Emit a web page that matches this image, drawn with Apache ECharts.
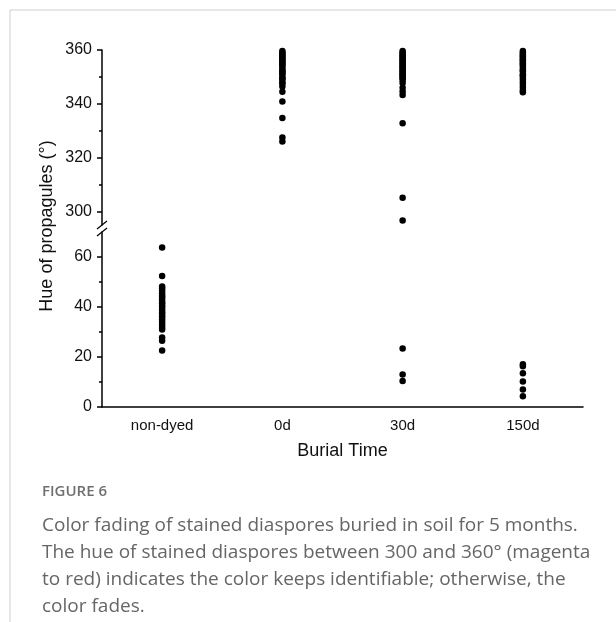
<!DOCTYPE html>
<html>
<head>
<meta charset="utf-8">
<script src="https://cdn.jsdelivr.net/npm/echarts@6/dist/echarts.min.js"></script>
<style>
html,body{margin:0;padding:0;background:#fff;}
#c{width:616px;height:622px;}
</style>
</head>
<body>
<div id="c"></div>
<script>
const categories = ['non-dyed', '0d', '30d', '150d'];
const nonDyed = [63.8, 52.4, 48.2, 47.5, 46.5, 45.5, 44.5, 44, 43, 42, 41.5, 40.5, 40, 39, 38, 37.5, 36.5, 36, 35, 34, 33, 32, 31, 27.8, 26.5, 22.6];
const day0 = [359.6, 359, 358.5, 358, 357.5, 357, 356.5, 356, 355.5, 355, 354.5, 354, 353, 352.5, 352, 351.5, 351, 350, 349.5, 349, 348, 347.6, 346.4, 344.5, 340.9, 334.7, 327.5, 326];
const day30 = [359.6, 359, 358.5, 358, 357.5, 357, 356.5, 356, 355.5, 355, 354.5, 354, 353.5, 353, 352.5, 352, 351.5, 351, 350.5, 350, 349.5, 348.9, 347.7, 346, 344.6, 343.3, 332.8, 305.1, 296.7, 23.4, 13, 10.4];
const day150 = [359.6, 359, 358.5, 358, 357.5, 357, 356.5, 356, 355.5, 355, 354.5, 354, 353, 352.5, 352, 351, 350.5, 350, 349, 348, 347, 346, 345, 344.3, 17.1, 16.3, 13.5, 10.2, 7, 4.3];
const upperMajorTicks = [300, 320, 340, 360];
const upperMinorTicks = [310, 330, 350];
const lowerMajorTicks = [0, 20, 40, 60];
const lowerMinorTicks = [10, 30, 50];
const upperRange = [295, 360];
const lowerRange = [0, 70];

const groups = [nonDyed, day0, day30, day150];
const upperData = [], lowerData = [];
groups.forEach((arr, i) => arr.forEach(v => {
  if (v >= upperRange[0]) upperData.push([i, v]); else lowerData.push([i, v]);
}));

const FONT = 'Liberation Sans, Arial, sans-serif';
const lineStyle = { color: '#000', width: 1.5 };

function yAx(grid, range, ticks, showLabel, len, showLine) {
  return {
    type: 'value', gridIndex: grid, min: range[0], max: range[1], position: 'left',
    axisLine: { show: showLine, onZero: false, lineStyle: lineStyle },
    axisTick: { show: true, length: len, inside: false, customValues: ticks, lineStyle: lineStyle },
    axisLabel: showLabel ? { show: true, customValues: ticks, margin: 10, color: '#111', fontSize: 16, fontFamily: FONT } : { show: false },
    splitLine: { show: false }
  };
}

const chart = echarts.init(document.getElementById('c'), null, { renderer: 'canvas' });
const option = {
  animation: false,
  backgroundColor: '#fff',
  grid: [
    { left: 102, right: 33, top: 50, height: 175 },
    { left: 102, right: 33, top: 232, height: 175 }
  ],
  xAxis: [
    { type: 'category', gridIndex: 0, data: categories, show: false },
    {
      type: 'category', gridIndex: 1, data: categories,
      axisLine: { lineStyle: lineStyle },
      axisTick: { alignWithLabel: true, length: 5, lineStyle: lineStyle },
      axisLabel: { margin: 11, color: '#111', fontSize: 15, fontFamily: FONT },
      name: 'Burial Time', nameLocation: 'middle', nameGap: 35,
      nameTextStyle: { color: '#111', fontSize: 18, fontFamily: FONT },
      splitLine: { show: false }
    }
  ],
  yAxis: [
    yAx(0, upperRange, upperMajorTicks, true, 5, true),
    yAx(0, upperRange, upperMinorTicks, false, 3, false),
    yAx(1, lowerRange, lowerMajorTicks, true, 5, true),
    yAx(1, lowerRange, lowerMinorTicks, false, 3, false)
  ],
  series: [
    { type: 'scatter', xAxisIndex: 0, yAxisIndex: 0, data: upperData, symbolSize: 6.5, itemStyle: { color: '#000', opacity: 1 } },
    { type: 'scatter', xAxisIndex: 1, yAxisIndex: 2, data: lowerData, symbolSize: 6.5, itemStyle: { color: '#000', opacity: 1 } }
  ]
};
chart.setOption(option);

const axisX = 102;
const yUp = chart.convertToPixel({ yAxisIndex: 0 }, upperRange[0]);
const yLo = chart.convertToPixel({ yAxisIndex: 2 }, lowerRange[1]);
const slash = (y) => ({ type: 'line', shape: { x1: axisX - 5, y1: y + 4, x2: axisX + 5, y2: y - 4 }, style: { stroke: '#000', lineWidth: 1.3 } });

chart.setOption({
  graphic: [
    { type: 'line', shape: { x1: 10, y1: 10, x2: 616, y2: 10 }, style: { stroke: '#cfcfcf', lineWidth: 1 } },
    { type: 'line', shape: { x1: 10, y1: 10, x2: 10, y2: 622 }, style: { stroke: '#cfcfcf', lineWidth: 1 } },
    slash(yUp), slash(yLo),
    { type: 'text', x: 47, y: 226, rotation: Math.PI / 2, style: { text: 'Hue of propagules (°)', fill: '#111', font: '18px ' + FONT, textAlign: 'center', textVerticalAlign: 'middle' } },
    { type: 'text', x: 42, y: 492, style: { text: 'FIGURE 6', fill: '#6f6f6f', font: '600 15px "Open Sans", sans-serif', textVerticalAlign: 'middle' } },
    { type: 'text', x: 42, y: 512, style: { text: 'Color fading of stained diaspores buried in soil for 5 months.\nThe hue of stained diaspores between 300 and 360° (magenta\nto red) indicates the color keeps identifiable; otherwise, the\ncolor fades.', fill: '#666', font: '19px "Open Sans", sans-serif', lineHeight: 27, textVerticalAlign: 'top' } }
  ]
});
</script>
</body>
</html>
